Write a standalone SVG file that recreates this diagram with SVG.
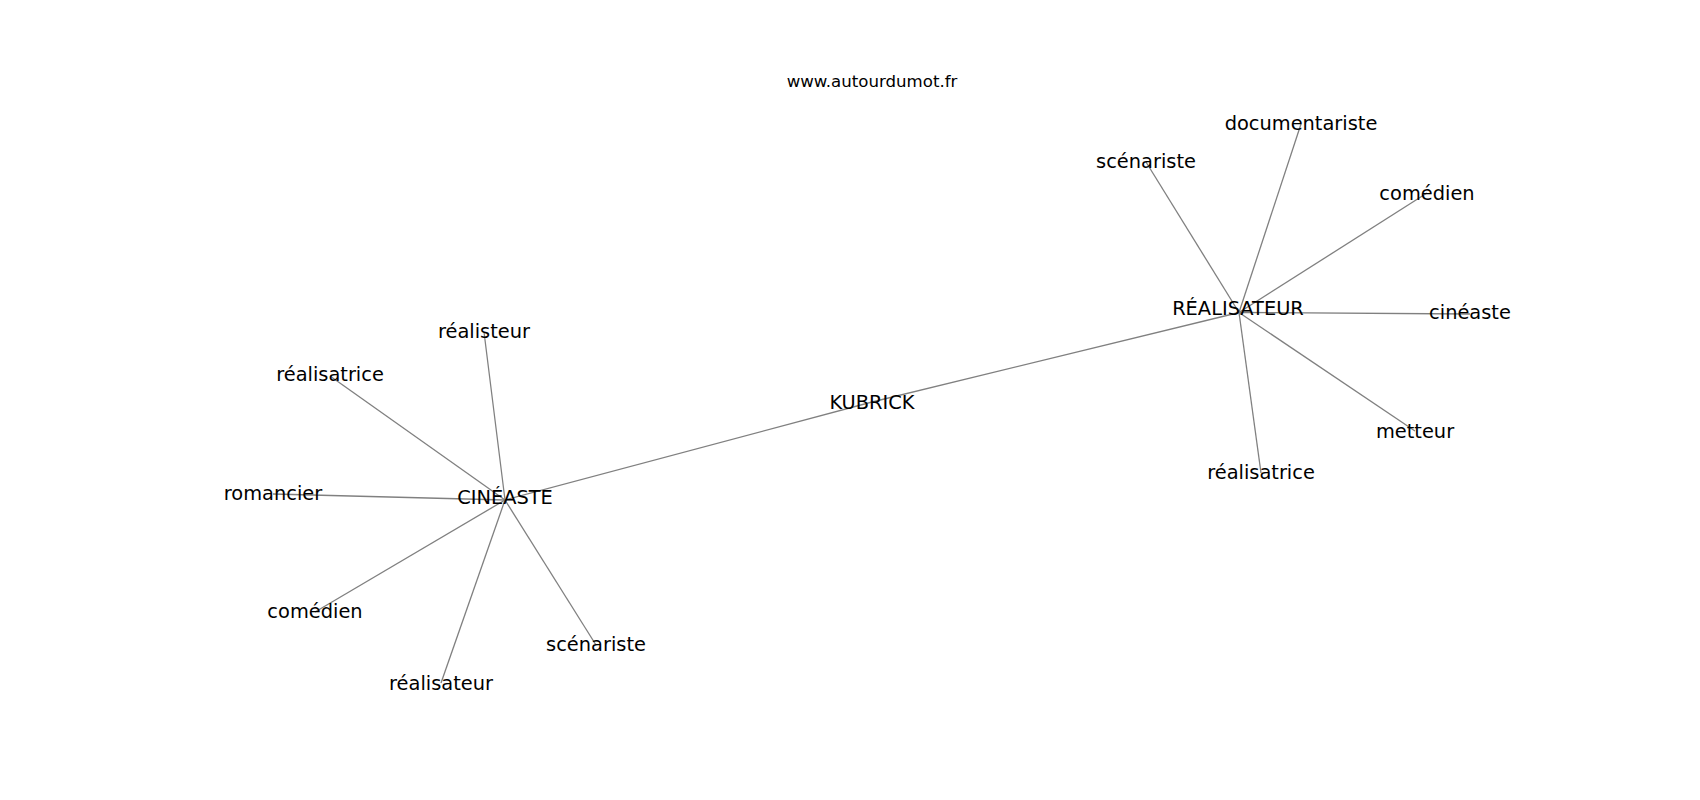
<svg xmlns="http://www.w3.org/2000/svg" width="1700" height="800" viewBox="0 0 1700 800">
<style>
  .e { stroke: #808080; stroke-width: 1.3; fill: none; }
  .t { font-family: "DejaVu Sans", sans-serif; font-size: 19.4px; fill: #000; text-anchor: middle; }
  .title { font-family: "DejaVu Sans", sans-serif; font-size: 16.6px; fill: #000; text-anchor: middle; }
</style>
<rect width="1700" height="800" fill="#fff"/>
<text class="title" x="872" y="87">www.autourdumot.fr</text>
<g id="edges">
  <line class="e" x1="505" y1="500" x2="872" y2="402"/>
  <line class="e" x1="872" y1="402" x2="1239" y2="312.5"/>
  <line class="e" x1="505" y1="500" x2="484" y2="332"/>
  <line class="e" x1="505" y1="500" x2="330" y2="376"/>
  <line class="e" x1="505" y1="500" x2="273" y2="494"/>
  <line class="e" x1="505" y1="500" x2="315" y2="612"/>
  <line class="e" x1="505" y1="500" x2="441" y2="683"/>
  <line class="e" x1="505" y1="500" x2="596" y2="645"/>
  <line class="e" x1="1239" y1="312.5" x2="1146" y2="162"/>
  <line class="e" x1="1239" y1="312.5" x2="1301" y2="124"/>
  <line class="e" x1="1239" y1="312.5" x2="1427" y2="193"/>
  <line class="e" x1="1239" y1="312.5" x2="1470" y2="314"/>
  <line class="e" x1="1239" y1="312.5" x2="1415" y2="431"/>
  <line class="e" x1="1239" y1="312.5" x2="1261" y2="473"/>
</g>
<g id="kubrick"><text class="t" x="872" y="409">KUBRICK</text></g>
<g id="cineaste-hub"><text class="t" x="505" y="504">CINÉASTE</text></g>
<g id="realisateur-hub"><text class="t" x="1238" y="315">RÉALISATEUR</text></g>
<g id="l-realisteur"><text class="t" x="484" y="338">réalisteur</text></g>
<g id="l-realisatrice"><text class="t" x="330" y="381">réalisatrice</text></g>
<g id="l-romancier"><text class="t" x="273" y="500">romancier</text></g>
<g id="l-comedien"><text class="t" x="315" y="618">comédien</text></g>
<g id="l-realisateur"><text class="t" x="441" y="690">réalisateur</text></g>
<g id="l-scenariste"><text class="t" x="596" y="651">scénariste</text></g>
<g id="r-scenariste"><text class="t" x="1146" y="168">scénariste</text></g>
<g id="r-documentariste"><text class="t" x="1301" y="130">documentariste</text></g>
<g id="r-comedien"><text class="t" x="1427" y="200">comédien</text></g>
<g id="r-cineaste"><text class="t" x="1470" y="319">cinéaste</text></g>
<g id="r-metteur"><text class="t" x="1415" y="438">metteur</text></g>
<g id="r-realisatrice"><text class="t" x="1261" y="479">réalisatrice</text></g>
</svg>
